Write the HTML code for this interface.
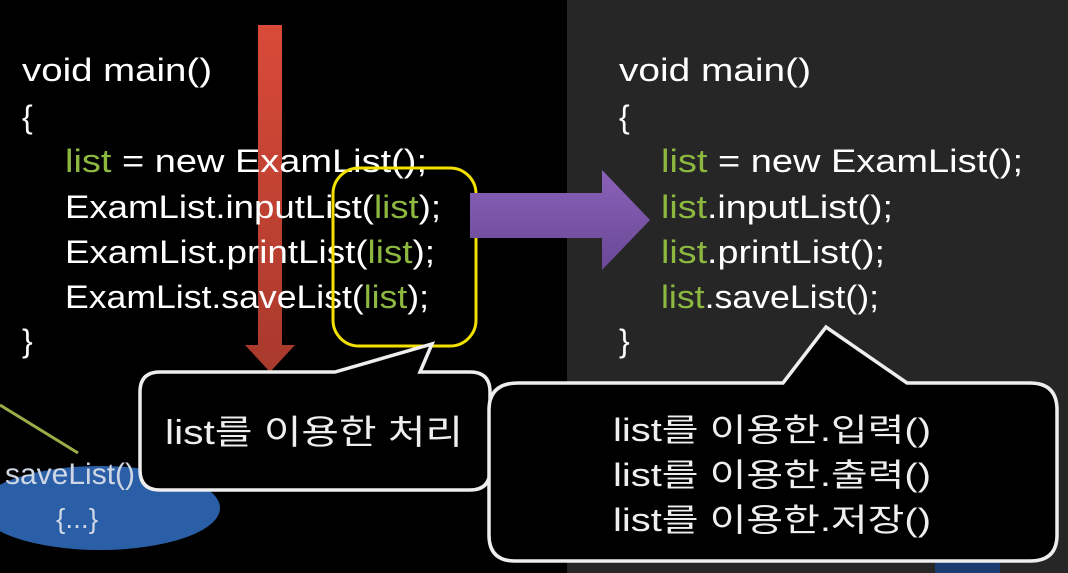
<!DOCTYPE html>
<html><head><meta charset="utf-8"><style>
html,body{margin:0;padding:0;background:#000;}
svg{display:block}
text{font-family:"Liberation Sans","Noto Sans CJK KR",sans-serif;}
</style></head><body>
<svg width="1068" height="573" viewBox="0 0 1068 573" xmlns="http://www.w3.org/2000/svg">
<defs>
<linearGradient id="rg" x1="0" y1="0" x2="0" y2="1"><stop offset="0" stop-color="#d94a38"/><stop offset="1" stop-color="#a8392c"/></linearGradient>
<linearGradient id="pg" x1="0" y1="0" x2="0" y2="1"><stop offset="0" stop-color="#8a62b8"/><stop offset="1" stop-color="#6a4896"/></linearGradient>
</defs>
<rect x="0" y="0" width="1068" height="573" fill="#000"/>
<rect x="567" y="0" width="501" height="573" fill="#262626"/>
<!-- red arrow -->
<polygon points="258,25 282,25 282,345 295,345 270,372 245,345 258,345" fill="url(#rg)"/>
<!-- left code -->
<g fill="#fff" font-size="32">
<text x="22" y="81" textLength="190" lengthAdjust="spacingAndGlyphs">void main()</text>
<text x="22" y="128">{</text>
<text x="65" y="172" textLength="362" lengthAdjust="spacingAndGlyphs"><tspan fill="#8cb840">list</tspan> = new ExamList();</text>
<text x="65" y="218" textLength="376" lengthAdjust="spacingAndGlyphs">ExamList.inputList(<tspan fill="#8cb840">list</tspan>);</text>
<text x="65" y="263" textLength="370" lengthAdjust="spacingAndGlyphs">ExamList.printList(<tspan fill="#8cb840">list</tspan>);</text>
<text x="65" y="308" textLength="364" lengthAdjust="spacingAndGlyphs">ExamList.saveList(<tspan fill="#8cb840">list</tspan>);</text>
<text x="22" y="352">}</text>
</g>
<!-- yellow box -->
<rect x="333" y="168" width="143" height="178" rx="26" fill="none" stroke="#f2e000" stroke-width="3"/>
<!-- purple arrow -->
<polygon points="470,193 602,193 602,170 650,220 602,270 602,238 470,238" fill="url(#pg)"/>
<!-- right code -->
<g fill="#fff" font-size="32">
<text x="619" y="81" textLength="192" lengthAdjust="spacingAndGlyphs">void main()</text>
<text x="619" y="128">{</text>
<text x="661" y="172" textLength="362" lengthAdjust="spacingAndGlyphs"><tspan fill="#8cb840">list</tspan> = new ExamList();</text>
<text x="661" y="218" textLength="232" lengthAdjust="spacingAndGlyphs"><tspan fill="#8cb840">list</tspan>.inputList();</text>
<text x="661" y="263" textLength="224" lengthAdjust="spacingAndGlyphs"><tspan fill="#8cb840">list</tspan>.printList();</text>
<text x="661" y="308" textLength="218" lengthAdjust="spacingAndGlyphs"><tspan fill="#8cb840">list</tspan>.saveList();</text>
<text x="619" y="352">}</text>
</g>
<!-- blue ellipse -->
<line x1="0" y1="405" x2="78" y2="453" stroke="#9aae48" stroke-width="3"/>
<ellipse cx="100" cy="508" rx="120" ry="42" fill="#2a5ea6"/>
<text x="5" y="484" font-size="30" fill="#cfd6e4">saveList()</text>
<text x="56" y="528" font-size="28" fill="#cfd6e4">{...}</text>
<rect x="935" y="562" width="65" height="11" fill="#1a3c6e"/>
<!-- callout 1 -->
<path d="M160,372 L335,372 L432,344 L420,372 L470,372 Q490,372 490,392 L490,470 Q490,490 470,490 L160,490 Q140,490 140,470 L140,392 Q140,372 160,372 Z" fill="#000" stroke="#eee" stroke-width="3.5"/>
<text x="165" y="444" font-size="34" fill="#eee" textLength="298" lengthAdjust="spacingAndGlyphs">list를 이용한 처리</text>
<!-- callout 2 -->
<path d="M518,383 L783,383 L826,327 L907,383 L1030,383 Q1057,383 1057,410 L1057,535 Q1057,561 1030,561 L515,561 Q489,561 489,535 L489,410 Q489,383 518,383 Z" fill="#000" stroke="#eee" stroke-width="3.5"/>
<g font-size="32" fill="#eee">
<text x="613" y="441" textLength="318" lengthAdjust="spacingAndGlyphs">list를 이용한.입력()</text>
<text x="613" y="486" textLength="318" lengthAdjust="spacingAndGlyphs">list를 이용한.출력()</text>
<text x="613" y="531" textLength="318" lengthAdjust="spacingAndGlyphs">list를 이용한.저장()</text>
</g>
</svg>
</body></html>
